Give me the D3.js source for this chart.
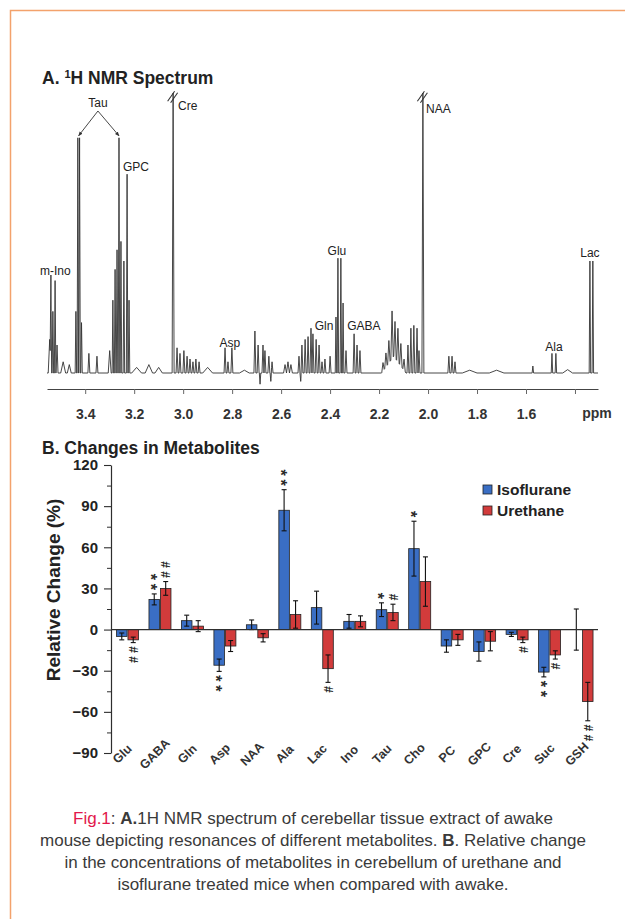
<!DOCTYPE html>
<html>
<head>
<meta charset="utf-8">
<script src="https://cdn.jsdelivr.net/npm/d3@7"></script>
<style>
  body { margin: 0; background: #fff; }
  svg { display: block; }
  .narrow { font-family: "Liberation Sans Narrow", "Arial Narrow", "Liberation Sans", Arial, sans-serif; }
  .sans { font-family: "Liberation Sans", Arial, Helvetica, sans-serif; }
</style>
</head>
<body>
<svg id="fig" width="625" height="919"></svg>
<script>
// ---- panel A: 1H NMR spectrum, peaks [ppm, height, half width]
var peaks = [
  [3.545, 12, 0.006], [3.540, 33, 0.003], [3.532, 22, 0.003], [3.523, 33, 0.003], [3.515, 10, 0.004],
  [3.490, 4, 0.010], [3.465, 3, 0.008],
  [3.438, 22, 0.003], [3.430, 84, 0.003], [3.423, 84, 0.003], [3.415, 18, 0.003],
  [3.385, 7, 0.004], [3.352, 6, 0.004],
  [3.300, 8, 0.006], [3.287, 26, 0.003], [3.278, 37, 0.003], [3.270, 44, 0.003], [3.262, 84, 0.003],
  [3.254, 47, 0.003], [3.242, 40, 0.003], [3.229, 71, 0.003], [3.221, 26, 0.003],
  [3.190, 2, 0.020], [3.140, 3, 0.015], [3.100, 2, 0.015],
  [3.041, 100, 0.004],
  [3.025, 9, 0.004], [3.013, 7, 0.004], [2.997, 8, 0.004], [2.984, 6, 0.004],
  [2.972, 5, 0.004], [2.960, 4, 0.004], [2.948, 5, 0.004], [2.935, 4, 0.004], [2.900, 2, 0.020],
  [2.829, 9, 0.004], [2.817, 4, 0.004], [2.801, 9, 0.004],
  [2.750, 1, 0.020],
  [2.707, 15, 0.004], [2.694, 10, 0.004], [2.686, -4, 0.003], [2.674, 10, 0.004], [2.666, 8, 0.004],
  [2.650, 6, 0.004], [2.642, -3, 0.003], [2.637, 4, 0.004],
  [2.584, 3, 0.006], [2.572, 4, 0.006], [2.560, 3, 0.006],
  [2.527, 6, 0.004], [2.520, -3, 0.003], [2.515, 10, 0.004], [2.502, 12, 0.004], [2.490, 13, 0.004],
  [2.478, 16, 0.004], [2.470, 14, 0.004], [2.457, 12, 0.004], [2.445, 10, 0.004], [2.433, 4, 0.004],
  [2.421, 5, 0.004], [2.400, 6, 0.004],
  [2.376, 20, 0.003], [2.368, 41, 0.003], [2.356, 41, 0.003], [2.347, 25, 0.003], [2.335, 8, 0.004],
  [2.302, 14, 0.004], [2.290, 10, 0.004], [2.278, 8, 0.004],
  [2.140, 6, 0.050],
  [2.184, 3, 0.005], [2.172, 5, 0.005], [2.160, 8, 0.005], [2.147, 17, 0.005], [2.135, 13, 0.005],
  [2.123, 12, 0.005], [2.111, 8, 0.005], [2.098, 4, 0.005],
  [2.082, 10, 0.004], [2.070, 16, 0.004], [2.058, 17, 0.004], [2.045, 16, 0.004], [2.037, 8, 0.004],
  [2.021, 100, 0.004],
  [1.915, 6, 0.004], [1.902, 6, 0.004], [1.890, 4, 0.004],
  [1.830, 1, 0.030], [1.720, 1, 0.030],
  [1.572, 2.5, 0.003],
  [1.494, 7, 0.003], [1.478, 7, 0.003],
  [1.430, 1.2, 0.020],
  [1.339, 40, 0.003], [1.327, 40, 0.003]
];
var ppmTicks = [3.4, 3.2, 3.0, 2.8, 2.6, 2.4, 2.2, 2.0, 1.8, 1.6, 1.4];
// [label, ppm, intensity, anchor]
var specLabels = [
  ["m-Ino", 3.585, 35, "start"], ["Tau", 3.348, 95, "middle"], ["GPC", 3.193, 72, "middle"],
  ["Cre", 3.021, 94, "start"], ["Asp", 2.809, 9.3, "middle"], ["Gln", 2.425, 15.4, "middle"],
  ["Glu", 2.372, 42, "middle"], ["GABA", 2.262, 15.4, "middle"], ["NAA", 2.008, 93, "start"],
  ["Ala", 1.486, 8, "middle"], ["Lac", 1.339, 41.5, "middle"]
];
var tauPeaks = [3.427, 3.262];

// ---- panel B: relative change (%)
var metabolites = ["Glu", "GABA", "Gln", "Asp", "NAA", "Ala", "Lac", "Ino", "Tau", "Cho", "PC", "GPC", "Cre", "Suc", "GSH"];
var isoVals = [-5, 22, 6.5, -26, 3.5, 87, 16, 6, 14.5, 59, -12, -16, -3.5, -31, 0];
var isoErr  = [2.5, 4, 4, 4.5, 3.5, 15, 12, 5, 5, 20, 4.5, 7, 1.5, 3.5, 15];
var ureVals = [-7.5, 30, 2.5, -12, -6, 11, -28.5, 6, 12.5, 35, -7.5, -8.5, -7.5, -18.5, -52.5];
var ureErr  = [2, 5, 4, 4, 3, 10, 10, 4, 6, 18, 4, 7, 2, 3, 14];
var isoSig  = ["", "**", "", "**", "", "**", "", "", "*", "*", "", "", "", "**", ""];
var ureSig  = ["##", "##", "", "", "", "", "#", "", "#", "", "", "", "#", "#", "##"];
var series = ["Isoflurane", "Urethane"];
var yTicks = [-90, -60, -30, 0, 30, 60, 90, 120];

var captionLines = [
  [["Fig.1", "red"], [": ", ""], ["A.", "b"], ["1H NMR spectrum of cerebellar tissue extract of awake", ""]],
  [["mouse depicting resonances of different metabolites. ", ""], ["B", "b"], [". Relative change", ""]],
  [["in the concentrations of metabolites in cerebellum of urethane and", ""]],
  [["isoflurane treated mice when compared with awake.", ""]]
];

var svg = d3.select("#fig");
var ink = "#2e2e2e";

// orange page frame
svg.append("path")
  .attr("d", "M10.5,919 V10.5 H625")
  .attr("fill", "none").attr("stroke", "#f3a26c").attr("stroke-width", 1.5);

// ================= A. spectrum =================
var x = d3.scaleLinear().domain([3.556, 1.306]).range([47, 598]);
var y = d3.scaleLinear().domain([0, 100]).range([373, 93]);

svg.append("text").attr("class", "sans")
  .attr("x", 42).attr("y", 84)
  .attr("font-size", 17.5).attr("font-weight", "bold").attr("fill", "#222")
  .html("A. <tspan font-size='11' dy='-6'>1</tspan><tspan dy='6'>H NMR Spectrum</tspan>");

// sum of the peaks evaluated at their break points
var pts = [];
peaks.forEach(function(p) { pts.push(p[0] - p[2], p[0], p[0] + p[2]); });
pts.push(x.domain()[0], x.domain()[1]);
pts = Array.from(new Set(pts.map(function(v) { return +v.toFixed(4); })))
  .filter(function(v) { return v <= x.domain()[0] && v >= x.domain()[1]; })
  .sort(function(a, b) { return b - a; });
var spectrum = pts.map(function(v) {
  var s = 0;
  peaks.forEach(function(p) {
    var d = Math.abs(v - p[0]);
    if (d < p[2]) s += p[1] * (1 - d / p[2]);
  });
  return [v, s];
});

svg.append("path")
  .datum(spectrum)
  .attr("fill", "none").attr("stroke", "#333").attr("stroke-width", 0.9)
  .attr("stroke-linejoin", "round")
  .attr("d", d3.line().x(function(d) { return x(d[0]); }).y(function(d) { return y(d[1]); }));

// break marks on truncated peaks
peaks.filter(function(p) { return p[1] >= 100; }).forEach(function(p) {
  var px = x(p[0]), py = y(p[1]);
  [-1.5, 1.5].forEach(function(o) {
    svg.append("line")
      .attr("x1", px - 4 + o).attr("y1", py + 9 + o * 0.5)
      .attr("x2", px + 3 + o).attr("y2", py - 1 + o * 0.5)
      .attr("stroke", "#333").attr("stroke-width", 1.1);
  });
});

// ppm axis
var xAxis = svg.append("g").attr("class", "narrow")
  .attr("transform", "translate(0,389)")
  .call(d3.axisBottom(x).tickValues(ppmTicks).tickSize(5).tickPadding(15).tickSizeOuter(0)
    .tickFormat(function(d) { return d > 1.5 ? d3.format(".1f")(d) : ""; }));
xAxis.select(".domain").attr("stroke", "#444");
xAxis.selectAll(".tick line").attr("stroke", "#666");
xAxis.selectAll("text").attr("font-size", 14).attr("font-weight", "bold").attr("fill", "#333");
svg.append("text").attr("class", "narrow")
  .attr("x", 597).attr("y", 418).attr("text-anchor", "middle")
  .attr("font-size", 14).attr("font-weight", "bold").attr("fill", "#333").text("ppm");

// peak labels
svg.selectAll(".plab").data(specLabels).enter().append("text")
  .attr("class", "sans")
  .attr("x", function(d) { return x(d[1]); })
  .attr("y", function(d) { return y(d[2]); })
  .attr("text-anchor", function(d) { return d[3]; })
  .attr("font-size", 12).attr("fill", "#222")
  .text(function(d) { return d[0]; });

// Tau arrows
svg.append("defs").append("marker")
  .attr("id", "ah").attr("viewBox", "0 0 10 10").attr("refX", 9).attr("refY", 5)
  .attr("markerWidth", 5).attr("markerHeight", 5).attr("orient", "auto")
  .append("path").attr("d", "M0,1 L10,5 L0,9 z").attr("fill", "#333");
tauPeaks.forEach(function(p) {
  svg.append("line")
    .attr("x1", x(3.348)).attr("y1", y(95) + 4)
    .attr("x2", x(p)).attr("y2", y(84) - 2)
    .attr("stroke", "#333").attr("stroke-width", 0.9)
    .attr("marker-end", "url(#ah)");
});

// ================= B. bar chart =================
svg.append("text").attr("class", "sans")
  .attr("x", 42).attr("y", 454)
  .attr("font-size", 17.5).attr("font-weight", "bold").attr("fill", "#222")
  .text("B. Changes in Metabolites");

var x0 = d3.scaleBand().domain(metabolites).range([111, 598]);
var x1 = d3.scaleBand().domain(series).range([5.5, 27.5]).paddingInner(0.08);
var yb = d3.scaleLinear().domain([-90, 120]).range([753, 465]);
var colors = { "Isoflurane": "#3a6ec4", "Urethane": "#d23b3b" };

// y axis with minor ticks
var minor = svg.append("g").attr("transform", "translate(111,0)")
  .call(d3.axisLeft(yb).tickValues(d3.range(-75, 120, 30)).tickSize(4).tickFormat(""));
minor.select(".domain").remove();
minor.selectAll("line").attr("stroke", ink);
var yAxis = svg.append("g").attr("class", "sans").attr("transform", "translate(111,0)")
  .call(d3.axisLeft(yb).tickValues(yTicks).tickSize(7).tickPadding(6).tickSizeOuter(0));
yAxis.select(".domain").attr("stroke", ink).attr("stroke-width", 1.2);
yAxis.selectAll(".tick line").attr("stroke", ink).attr("stroke-width", 1.1);
yAxis.selectAll("text").attr("font-size", 15).attr("font-weight", "bold").attr("fill", "#222");

svg.append("text").attr("class", "sans")
  .attr("transform", "translate(60,590) rotate(-90)")
  .attr("text-anchor", "middle")
  .attr("font-size", 19).attr("font-weight", "bold").attr("fill", "#222")
  .text("Relative Change (%)");

var rows = metabolites.map(function(m, i) {
  return [
    { cat: m, s: "Isoflurane", v: isoVals[i], e: isoErr[i], sig: isoSig[i] },
    { cat: m, s: "Urethane", v: ureVals[i], e: ureErr[i], sig: ureSig[i] }
  ];
});
var flat = [].concat.apply([], rows);

var bar = svg.append("g").selectAll("g").data(flat).enter().append("g")
  .attr("transform", function(d) { return "translate(" + (x0(d.cat) + x1(d.s)) + ",0)"; });
var bw = x1.bandwidth();

bar.append("rect")
  .attr("x", 0).attr("width", bw)
  .attr("y", function(d) { return yb(Math.max(0, d.v)); })
  .attr("height", function(d) { return Math.abs(yb(d.v) - yb(0)); })
  .attr("fill", function(d) { return colors[d.s]; })
  .attr("stroke", "#222").attr("stroke-width", 0.8);

bar.append("line")
  .attr("x1", bw / 2).attr("x2", bw / 2)
  .attr("y1", function(d) { return yb(d.v - d.e); })
  .attr("y2", function(d) { return yb(d.v + d.e); })
  .attr("stroke", "#111").attr("stroke-width", 1.1);
bar.selectAll(".cap").data(function(d) { return [d.v - d.e, d.v + d.e]; }).enter()
  .append("line")
  .attr("x1", bw / 2 - 2.5).attr("x2", bw / 2 + 2.5)
  .attr("y1", function(v) { return yb(v); }).attr("y2", function(v) { return yb(v); })
  .attr("stroke", "#111").attr("stroke-width", 1.1);

// significance marks: the string is turned upright so the marks stack in one column
bar.each(function(d) {
  if (!d.sig) return;
  var dir = d.v >= 0 ? -1 : 1;
  var end = yb(d.v + (d.v >= 0 ? d.e : -d.e));
  var isStar = d.sig[0] === "*";
  var fs = isStar ? 16 : 12;
  var adv = (isStar ? 0.389 : 0.556) * fs;   // glyph advance in the font
  var gap = 10;                               // distance between mark centres
  var n = d.sig.length;
  var cy = end + dir * (7 + (n - 1) * gap / 2);
  var lift = (isStar ? 0.58 : 0.35) * fs;     // glyph centre above baseline
  d3.select(this).append("text").attr("class", "sans")
    .attr("transform", "translate(" + (bw / 2 - lift) + "," + cy + ") rotate(90)")
    .attr("x", (gap - adv) / 2)
    .attr("text-anchor", "middle")
    .attr("letter-spacing", gap - adv)
    .attr("font-size", fs).attr("font-weight", "bold").attr("fill", "#2a2a2a")
    .text(d.sig);
});

// zero line
svg.append("line")
  .attr("x1", 111).attr("x2", 598)
  .attr("y1", yb(0)).attr("y2", yb(0))
  .attr("stroke", ink).attr("stroke-width", 1.3);

// category labels
svg.selectAll(".cat").data(metabolites).enter().append("text")
  .attr("class", "sans")
  .attr("transform", function(d) { return "translate(" + (x0(d) + x0.bandwidth() / 2 - 2) + ",757) rotate(-45)"; })
  .attr("text-anchor", "middle")
  .attr("font-size", 12.5).attr("font-weight", "bold").attr("fill", "#333")
  .text(function(d) { return d; });

// legend
var leg = svg.append("g").selectAll("g").data(series).enter().append("g")
  .attr("transform", function(d, i) { return "translate(483," + (485 + i * 21) + ")"; });
leg.append("rect").attr("width", 9).attr("height", 9)
  .attr("fill", function(d) { return colors[d]; }).attr("stroke", "#222").attr("stroke-width", 0.8);
leg.append("text").attr("class", "sans")
  .attr("x", 14).attr("y", 9.5)
  .attr("font-size", 15.5).attr("font-weight", "bold").attr("fill", "#222")
  .text(function(d) { return d; });

// ================= caption =================
var cap = svg.append("g").attr("class", "narrow");
captionLines.forEach(function(line, i) {
  var t = cap.append("text")
    .attr("x", 313).attr("y", 824 + i * 22).attr("text-anchor", "middle")
    .attr("font-size", 17).attr("fill", "#3a3a3a");
  line.forEach(function(part) {
    t.append("tspan")
      .attr("fill", part[1] === "red" ? "#e2184c" : null)
      .attr("font-weight", part[1] === "b" ? "bold" : null)
      .text(part[0]);
  });
});
</script>
</body>
</html>
